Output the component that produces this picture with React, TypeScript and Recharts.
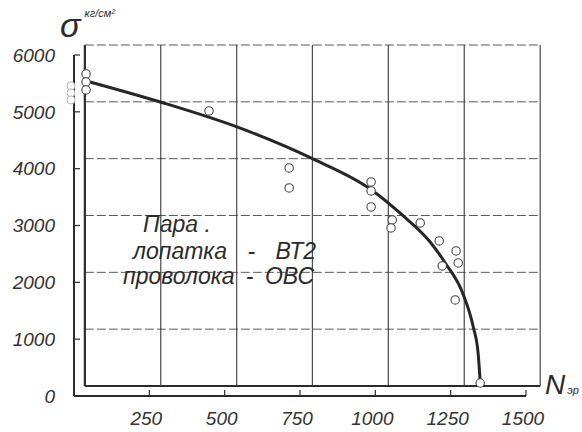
import React from "react";
import {
  ComposedChart,
  XAxis,
  YAxis,
  Line,
  Scatter,
  ReferenceLine,
  ReferenceDot,
} from "recharts";

// test points: N (cycles) and sigma (kg/cm2)
const pointN = [40, 40, 40, 448, 714, 714, 986, 986, 986, 1056, 1052, 1149, 1212, 1268, 1275, 1222, 1265, 1348];
const pointS = [5667, 5526, 5386, 5016, 4013, 3661, 3766, 3608, 3326, 3098, 2957, 3045, 2728, 2552, 2341, 2288, 1690, 229];

// faded circles printed just left of the axis
const fadedN = [-10, -10, -10];
const fadedS = [5456, 5333, 5210];

// hand-drawn fit curve
const curveN = [53, 286, 541, 793, 983, 1089, 1182, 1232, 1291, 1325, 1341, 1348];
const curveS = [5526, 5174, 4734, 4171, 3643, 3186, 2710, 2341, 1795, 1214, 757, 246];

const xTicks = [250, 500, 750, 1000, 1250, 1500];
const yTicks = [0, 1000, 2000, 3000, 4000, 5000, 6000];

// the grid paper sits off the printed axis; its lines read in axis units
const gridN = [36, 288, 540, 791, 1043, 1295, 1547];
const gridS = [176, 1176, 2176, 3176, 4176, 5176, 6176];

const points = pointN.map((n, i) => ({ n, s: pointS[i] }));
const curve = curveN.map((n, i) => ({ n, s: curveS[i] }));

const font = "'Liberation Sans', Arial, sans-serif";
const ink = "#2b2b2b";

const Ring = (p: any) => (
  <circle cx={p.cx} cy={p.cy} r={4.2} fill="#fff" stroke="#474747" strokeWidth={1.1} />
);

const txt = (left: number, top: number, size: number): React.CSSProperties => ({
  position: "absolute",
  left,
  top,
  fontFamily: font,
  fontStyle: "italic",
  fontSize: size,
  lineHeight: 1,
  color: ink,
  whiteSpace: "pre",
});

export default function App() {
  const gLeft = gridN[0];
  const gRight = gridN[gridN.length - 1];
  const gBottom = gridS[0];
  const gTop = gridS[gridS.length - 1];
  return (
    <div style={{ position: "absolute", left: 0, top: 0, width: 582, height: 432, background: "#fff" }}>
      <ComposedChart width={582} height={432} margin={{ top: 55, right: 56, bottom: 0, left: 0 }}>
        <XAxis
          type="number"
          dataKey="n"
          domain={[0, 1500]}
          allowDataOverflow
          ticks={xTicks}
          interval={0}
          height={36}
          tickSize={-6}
          tickMargin={22}
          axisLine={{ stroke: ink, strokeWidth: 2 }}
          tickLine={{ stroke: ink, strokeWidth: 1.2 }}
          tick={{ fill: "#333", fontSize: 19, fontStyle: "italic", fontFamily: font, dx: -3 }}
        />
        <YAxis
          type="number"
          dataKey="s"
          domain={[0, 6000]}
          allowDataOverflow
          ticks={yTicks}
          interval={0}
          width={74}
          tickSize={-6}
          tickMargin={25}
          axisLine={{ stroke: ink, strokeWidth: 2 }}
          tickLine={{ stroke: ink, strokeWidth: 1.2 }}
          tick={{ fill: "#333", fontSize: 19, fontStyle: "italic", fontFamily: font }}
        />
        {gridS.map((v, i) => (
          <ReferenceLine
            key={"h" + v}
            ifOverflow="visible"
            segment={[{ x: gLeft, y: v }, { x: gRight, y: v }]}
            stroke={i === 0 ? ink : "#5a5a5a"}
            strokeWidth={i === 0 ? 2.2 : 1}
            strokeDasharray={i === 0 ? undefined : "9 3"}
          />
        ))}
        {gridN.map((v, i) => (
          <ReferenceLine
            key={"v" + v}
            ifOverflow="visible"
            segment={[{ x: v, y: gBottom }, { x: v, y: gTop }]}
            stroke={i === 0 ? ink : "#3a3a3a"}
            strokeWidth={i === 0 ? 2.2 : 1.1}
          />
        ))}
        <Line
          data={curve}
          dataKey="s"
          type="monotone"
          stroke="#262626"
          strokeWidth={3}
          dot={false}
          isAnimationActive={false}
        />
        <Scatter data={points} dataKey="s" shape={Ring} isAnimationActive={false} />
        {fadedN.map((n, i) => (
          <ReferenceDot
            key={"f" + i}
            x={n}
            y={fadedS[i]}
            r={4}
            fill="#fff"
            stroke="#b5b5b5"
            ifOverflow="visible"
          />
        ))}
      </ComposedChart>

      <div style={txt(60, 8, 34)}>
        σ<span style={{ fontSize: 11, verticalAlign: "top", marginLeft: 4 }}>кг/см²</span>
      </div>

      <div style={txt(143, 213, 23)}>Пара .</div>
      <div style={{ ...txt(133, 240, 23), wordSpacing: 14 }}>лопатка - ВТ2</div>
      <div style={{ ...txt(123, 265, 23), wordSpacing: 5 }}>проволока - ОВС</div>

      <div style={txt(545, 371, 28)}>
        N<span style={{ fontSize: 11, marginLeft: 2 }}>эр</span>
      </div>
    </div>
  );
}
